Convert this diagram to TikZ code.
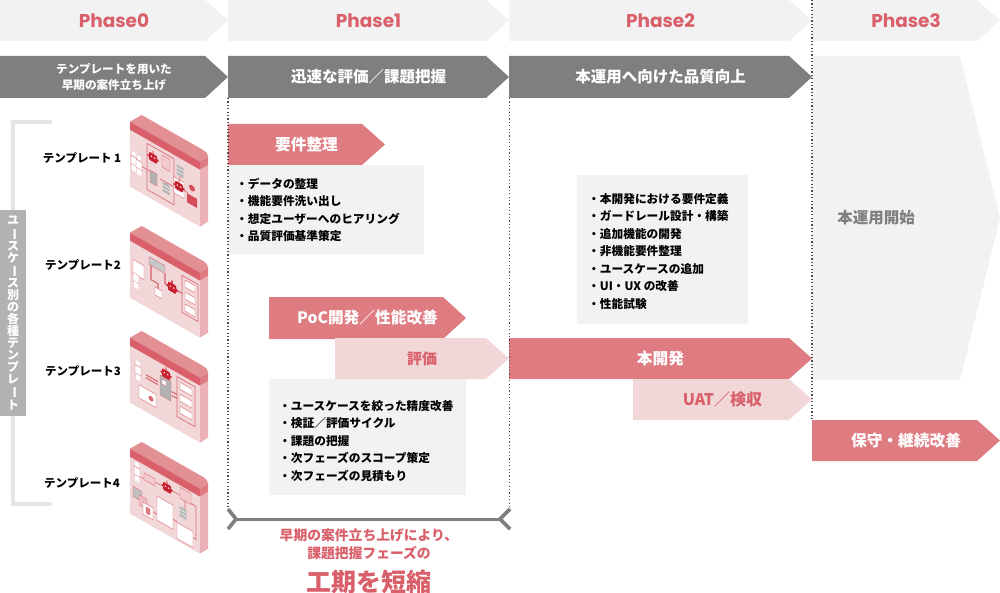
\documentclass[tikz,border=0pt]{standalone}
\usepackage{fontspec}
\setmainfont{Noto Sans CJK JP}
\newfontfamily\phasefont{Poppins}
\usetikzlibrary{positioning}
\definecolor{phasered}{HTML}{D9606A}
\definecolor{barpink}{HTML}{DE7C82}
\definecolor{barlight}{HTML}{F2D7D9}
\definecolor{panelgray}{HTML}{F2F2F2}
\definecolor{bardark}{HTML}{7F7F7F}
\definecolor{tplred}{HTML}{C8202E}
\definecolor{tplline}{HTML}{DB6E77}
\tikzset{
  phasetext/.style={text=phasered,font=\phasefont\fontsize{18.5}{22}\selectfont\bfseries},
  darktext/.style={text=white,font=\bfseries\fontsize{15.5}{18}\selectfont,align=center},
  pinktext/.style={text=white,font=\bfseries\fontsize{15.7}{18}\selectfont},
  lighttext/.style={text=phasered,font=\bfseries\fontsize{16}{19}\selectfont},
  listtext/.style={anchor=north west,inner sep=0pt,align=left,font=\bfseries\fontsize{11.7}{17.5}\selectfont},
  tpltext/.style={font=\bfseries\fontsize{11.5}{14}\selectfont},
  redtext/.style={text=phasered,font=\bfseries\fontsize{13.8}{18}\selectfont,align=center},
  dotline/.style={line width=1.1pt,black!70,dash pattern=on 1.2pt off 2.2pt},
  flow/.style={tplline,line width=.7pt},
}
% name, fill, text style, x left, x tip, y top, y bottom, text
\newcommand\bararrow[8]{
  \fill[#2] (#4,#6) -- ({#5-23},#6) -- (#5,{(#6+#7)/2}) -- ({#5-23},#7) -- (#4,#7) -- cycle;
  \node[#3] (#1) at ({(#4+#5)/2},{(#6+#7)/2}) {#8};
}
% small icons, drawn inside the slanted panel
\newcommand\tplrobot[2]{
  \fill[tplred] (#1-5.5,#2-1) rectangle (#1+5.5,#2+1);
  \fill[tplred] (#1-.4,#2-7) rectangle (#1+.4,#2-3);
  \fill[tplred,rounded corners=1pt] (#1-4,#2-4) rectangle (#1+4,#2+4);
  \fill[white] (#1-1.7,#2-.6) circle (.8) (#1+1.7,#2-.6) circle (.8);
}
\newcommand\tplperson[2]{
  \fill[white] (#1,#2-8) circle (2.2);
  \fill[white] (#1-3,#2-5) rectangle (#1+3,#2+3) (#1-2,#2+3) rectangle (#1+2,#2+9);
  \draw[tplline,line width=.3pt] (#1-3,#2-5) rectangle (#1+3,#2+3);
}
\newcommand\tplcan[2]{
  \fill[black!28] (#1-3.5,#2-5) rectangle (#1+3.5,#2+5);
  \draw[white,line width=.4pt] (#1-3.5,#2-1.7) -- (#1+3.5,#2-1.7) (#1-3.5,#2+1.7) -- (#1+3.5,#2+1.7);
}
\newcommand\tpldoc[5]{
  \fill[#5] (#1,#2) rectangle (#3,#4);
  \draw[tplline,line width=.4pt] (#1,#2) rectangle (#3,#4);
}
\newcommand\tplframe[4]{
  \draw[tplline,line width=.7pt] (#1,#2) rectangle (#3,#4);
}
\newcommand\tplone{
  \tplframe{17}{4}{44}{50}
  \tplperson{4}{30} \tplperson{9}{31}
  \tplrobot{23}{15}
  \tpldoc{32}{7}{40}{19}{barpink!40}
  \tpldoc{20}{29}{27}{41}{black!30}
  \tplcan{36}{38} \tplcan{50}{13}
  \tpldoc{44}{22}{54}{38}{white}
  \tplrobot{49}{29}
  \fill[tplred!80] (62,23) circle (3) (57,31) rectangle (67,40);
  \draw[flow] (12,30) -- (20,30) (30,32) -- (44,32) (50,18) -- (50,22) (54,30) -- (58,30);
}
\newcommand\tpltwo{
  \tpldoc{3}{17}{14}{31}{white}
  \tplperson{6}{35}
  \tpldoc{19}{5}{35}{13}{black!22}
  \tpldoc{25}{32}{32}{40}{white}
  \tplframe{52}{5}{68}{42}
  \foreach \boxv in {8,20,32}
    \tpldoc{55}{\boxv}{65}{\boxv+7}{white}
  \tplrobot{42}{23}
  \draw[flow] (21,13) -- (21,27) -- (28,27) -- (28,32) (35,13) -- (35,23) -- (37,23) (47,23) -- (52,23);
}
\newcommand\tplthree{
  \tplperson{8}{21}
  \tpldoc{30}{12}{41}{32}{black!30}
  \tpldoc{32}{15}{36}{20}{white}
  \tplrobot{36}{8}
  \tpldoc{9}{34}{26}{47}{white}
  \fill[tplred!70] (21,41) circle (2.5);
  \tplframe{47}{4}{65}{44}
  \foreach \boxv in {8,20,32}
    \tpldoc{50}{\boxv}{62}{\boxv+7}{white}
  \draw[flow] (16,20) -- (28,20) (16,23) -- (28,23) (42,22) -- (47,22) (42,26) -- (47,26);
}
\newcommand\tplfour{
  \tplperson{7}{12}
  \tpldoc{14}{8}{25}{15}{barpink!40}
  \tplrobot{37}{10}
  \tpldoc{50}{2}{61}{13}{barpink!40}
  \tplcan{53}{26}
  \tpldoc{3}{28}{12}{38}{black!25}
  \tpldoc{9}{33}{17}{43}{barpink!50}
  \tpldoc{13}{38}{23}{50}{white}
  \tpldoc{16}{41}{20}{47}{tplred!60}
  \tpldoc{27}{24}{43}{48}{white}
  \tpldoc{47}{39}{63}{55}{white}
  \draw[flow] (11,14) -- (14,14) (25,11) -- (31,11) (43,10) -- (50,10) (55,13) -- (55,21) (23,42) -- (27,42) (43,38) -- (47,38) (63,45) -- (66,45) -- (66,12) -- (61,12);
}
\begin{document}
\begin{tikzpicture}[x=1pt,y=-1pt]
\useasboundingbox (0,0) rectangle (1000,593);
\fill[white] (0,0) rectangle (1000,593);
% phase row
\bararrow{phase0}{panelgray}{phasetext}{0}{228}{0}{41}{Phase0}
\bararrow{phase1}{panelgray}{phasetext}{228}{509}{0}{41}{Phase1}
\bararrow{phase2}{panelgray}{phasetext}{509}{812}{0}{41}{Phase2}
\bararrow{phase3}{panelgray}{phasetext}{812}{1000}{0}{41}{Phase3}
% goals
\bararrow{goal0}{bardark}{darktext,font=\bfseries\fontsize{11.6}{16}\selectfont}{0}{228}{56}{98}{テンプレートを用いた\\早期の案件立ち上げ}
\bararrow{goal1}{bardark}{darktext}{228}{509}{56}{98}{迅速な評価／課題把握}
\bararrow{goal2}{bardark}{darktext}{509}{812}{56}{98}{本運用へ向けた品質向上}
\fill[panelgray] (812,56) -- (960,56) -- (1000,218) -- (960,380) -- (812,380) -- cycle;
\node[text=bardark,font=\bfseries\fontsize{15.5}{18}\selectfont] (start) at (876,218) {本運用開始};
% task boxes
\fill[panelgray] (228,165) rectangle (424,254);
\fill[panelgray] (269,379) rectangle (466,495);
\fill[panelgray] (577,175) rectangle (748,324);
\node[listtext] (list1) at (236,178) {・データの整理\\・機能要件洗い出し\\・想定ユーザーへのヒアリング\\・品質評価基準策定};
\node[listtext] (list2) at (279,400) {・ユースケースを絞った精度改善\\・検証／評価サイクル\\・課題の把握\\・次フェーズのスコープ策定\\・次フェーズの見積もり};
\node[listtext] (list3) at (588,193) {・本開発における要件定義\\・ガードレール設計・構築\\・追加機能の開発\\・非機能要件整理\\・ユースケースの追加\\・UI・UX の改善\\・性能試験};
% work bars
\bararrow{req}{barpink}{pinktext}{228}{385}{124}{165}{要件整理}
\bararrow{poc}{barpink}{pinktext}{269}{466}{297}{339}{PoC開発／性能改善}
\bararrow{eval}{barlight}{lighttext,font=\bfseries\fontsize{15}{18}\selectfont}{335}{509}{338}{379}{評価}
\bararrow{dev}{barpink}{pinktext}{509}{812}{338}{379}{本開発}
\bararrow{uat}{barlight}{lighttext}{633}{812}{379}{420}{UAT／検収}
\bararrow{ops}{barpink}{pinktext}{812}{1000}{420}{461}{保守・継続改善}
% phase borders
\coordinate (b1t) at (228,98);
\coordinate (b1b) at (228,507);
\coordinate (b2t) at (509.5,98);
\coordinate (b2b) at (509.5,507);
\coordinate (b3t) at (812,0);
\coordinate (b3b) at (812,420);
\draw[dotline] (b1t) -- (b1b);
\draw[dotline] (b2t) -- (b2b);
\draw[dotline] (b3t) -- (b3b);
% shortened span
\coordinate (spanl) at (236,519);
\coordinate (spanr) at (500,519);
\draw[bardark,line width=3pt] (spanl) -- (spanr);
\draw[bardark,line width=3.6pt] (228,509) -- (spanl) -- (228,529);
\draw[bardark,line width=3.6pt] (510,509) -- (spanr) -- (510,529);
\node[redtext] (gain) at (369,544) {早期の案件立ち上げにより、\\課題把握フェーズの};
\node[text=phasered,font=\bfseries\fontsize{25}{28}\selectfont] (short) at (369,582) {工期を短縮};
% template bracket
\coordinate (brt) at (52,122);
\coordinate (brb) at (52,504);
\draw[black!10,line width=3.5pt] (brt) -- (13,122) -- (13,504) -- (brb);
\fill[black!30] (0,210) rectangle (26,416);
\node[text=white,align=center,inner sep=0pt,font=\bfseries\fontsize{12}{12}\selectfont] (usecase) at (13,313)
  {ユ\\\rotatebox[origin=c]{-90}{ー}\\ス\\ケ\\\rotatebox[origin=c]{-90}{ー}\\ス\\別\\の\\各\\種\\テ\\ン\\プ\\レ\\\rotatebox[origin=c]{-90}{ー}\\ト};
\node[tpltext] (tpl1) at (82,158) {テンプレート 1};
\node[tpltext] (tpl2) at (83,265) {テンプレート2};
\node[tpltext] (tpl3) at (83,371) {テンプレート3};
\node[tpltext] (tpl4) at (82,483) {テンプレート4};
% template panels
\foreach \apex/\tplicons in {115/\tplone,226/\tpltwo,331/\tplthree,442/\tplfour}{
\begin{scope}[shift={(130,\apex)}]
\fill[barlight] (0,14.7) -- (70,54.7) -- (70,111.7) -- (0,71.7) -- cycle;
\fill[barlight!60!barpink] (70,54.7) -- (78,50) -- (78,106.7) -- (70,111.7) -- cycle;
\fill[barpink!85!white] (0,6.7) -- (11.7,0) -- (74,35.5) [rounded corners=2pt] -- (78,39) -- (78,44) [sharp corners] -- (70,46.7) -- cycle;
\fill[phasered] (0,6.7) -- (70,46.7) -- (70,54.7) -- (0,14.7) -- cycle;
\fill[barpink] (70,46.7) -- (78,42) -- (78,50) -- (70,54.7) -- cycle;
\end{scope}
\begin{scope}[shift={(130,\apex+14.7)},yslant=-0.571]
\tplicons
\end{scope}
}
\end{tikzpicture}
\end{document}
